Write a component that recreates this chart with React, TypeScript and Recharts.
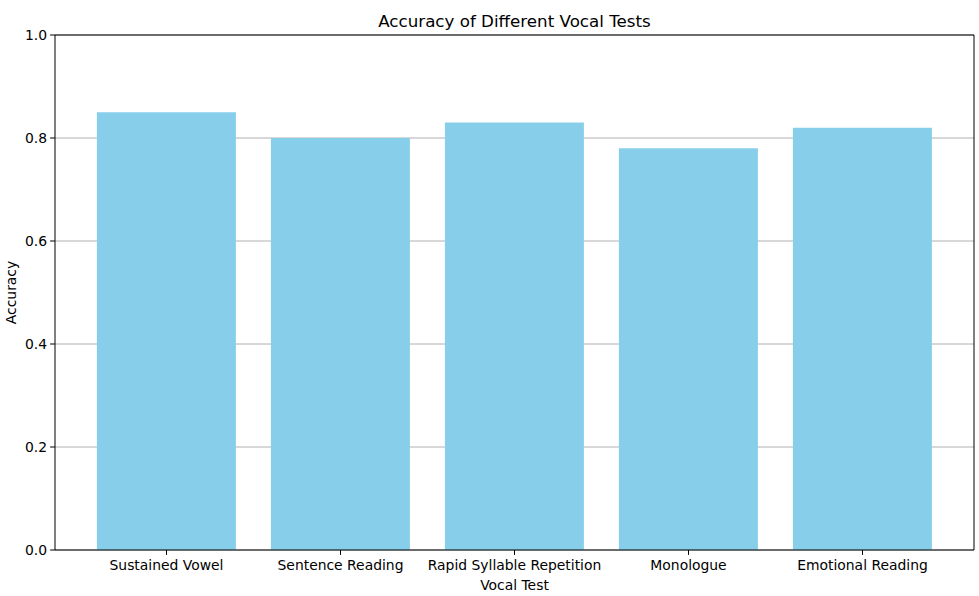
import { BarChart, Bar, XAxis, YAxis, CartesianGrid, ReferenceLine } from 'recharts';

const tests = ['Sustained Vowel', 'Sentence Reading', 'Rapid Syllable Repetition', 'Monologue', 'Emotional Reading'];
const accuracy = [0.85, 0.8, 0.83, 0.78, 0.82];
const yTicks = [0, 0.2, 0.4, 0.6, 0.8, 1.0];

const data = tests.map((test, i) => ({ test, accuracy: accuracy[i] }));

const font = 'DejaVu Sans, sans-serif';

export default function App() {
  return (
    <div style={{ position: 'absolute', left: 0, top: 0, width: 979, height: 596, background: '#fff', fontFamily: font }}>
      <div
        style={{
          position: 'absolute',
          top: 11,
          left: 55,
          width: 919,
          textAlign: 'center',
          fontSize: 16.7,
          color: '#000',
        }}
      >
        Accuracy of Different Vocal Tests
      </div>
      <BarChart
        width={979}
        height={596}
        data={data}
        margin={{ top: 35, right: 0, bottom: 0, left: 0 }}
        barCategoryGap="10%"
      >
        <XAxis
          dataKey="test"
          height={46}
          padding={{ left: 24.5, right: 24.5 }}
          stroke="#000"
          tickSize={4.9}
          tickMargin={5}
          tick={{ fill: '#000', fontSize: 13.9, fontFamily: font }}
          interval={0}
          label={{ value: 'Vocal Test', position: 'insideBottom', offset: 6, fill: '#000', fontSize: 13.9, fontFamily: font }}
        />
        <YAxis
          domain={[0, 1]}
          ticks={yTicks}
          width={55}
          stroke="#000"
          tickSize={4.9}
          tickMargin={3}
          tickFormatter={(v: number) => v.toFixed(1)}
          tick={{ fill: '#000', fontSize: 13.9, fontFamily: font }}
          label={{ value: 'Accuracy', angle: -90, position: 'insideLeft', offset: 11, fill: '#000', fontSize: 13.9, fontFamily: font, style: { textAnchor: 'middle' } }}
        />
        <YAxis yAxisId="right" orientation="right" domain={[0, 1]} width={5} tick={false} tickLine={false} stroke="#000" />
        <Bar dataKey="accuracy" fill="#87CEEB" isAnimationActive={false} />
        <CartesianGrid vertical={false} stroke="#b0b0b0" strokeWidth={1} />
        <ReferenceLine y={1} stroke="#000" />
      </BarChart>
    </div>
  );
}
